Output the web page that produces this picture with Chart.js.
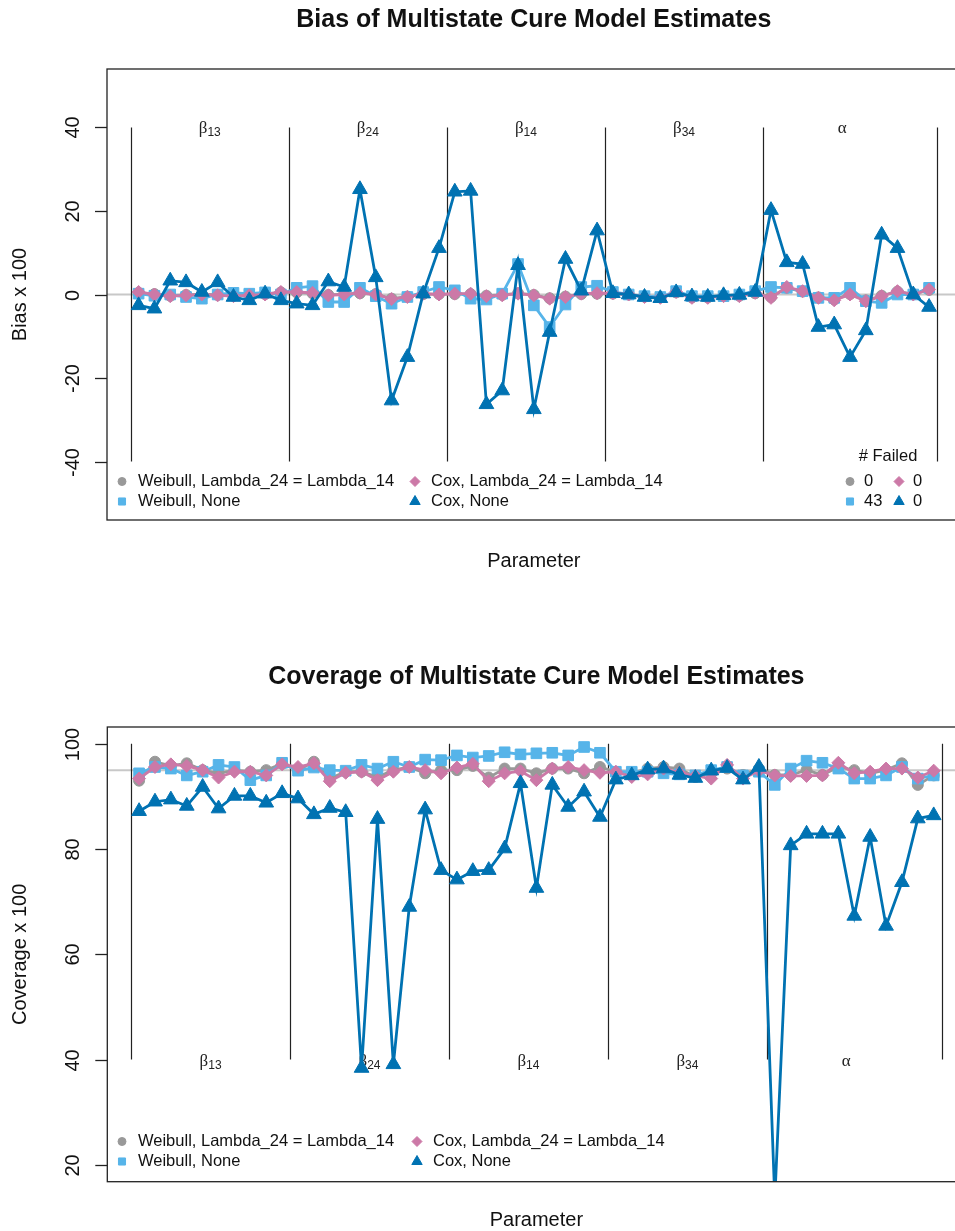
<!DOCTYPE html>
<html>
<head>
<meta charset="utf-8">
<script src="https://cdn.jsdelivr.net/npm/chart.js@4.4.1/dist/chart.umd.min.js"></script>
<style>
html, body { margin:0; padding:0; background:#fff; overflow:hidden; width:955px; height:1231px; }
#wrap { position:relative; width:955px; height:1231px; overflow:hidden; }
canvas { position:absolute; left:0; }
#biasCanvas { top:0; }
#covCanvas { top:615px; }
</style>
</head>
<body>
<div id="wrap">
<canvas id="biasCanvas" width="975" height="615"></canvas>
<canvas id="covCanvas" width="975" height="616"></canvas>
</div>
<script>
// parameter index (x position of each estimate)
var paramIndex = [1,2,3,4,5,6,7,8,9,10,11,12,13,14,15,16,17,18,19,20,21,22,23,24,25,
  26,27,28,29,30,31,32,33,34,35,36,37,38,39,40,41,42,43,44,45,46,47,48,49,50,51];

// groups of parameters
var groupSymbols = ['\u03B2', '\u03B2', '\u03B2', '\u03B2', '\u03B1'];
var groupSubs = ['13', '24', '14', '34', ''];
var groupCenters = [5.5, 15.5, 25.5, 35.5, 45.5];
var groupBounds = [0.5, 10.5, 20.5, 30.5, 40.5, 51.5];

var seriesNames = ['Weibull, Lambda_24 = Lambda_14', 'Weibull, None', 'Cox, Lambda_24 = Lambda_14', 'Cox, None'];
var failedCounts = [0, 43, 0, 0];

// Bias x 100
var biasWeibullLambda = [0.4, 0.1, -0.3, -0.1, 0.1, -0.1, -0.3, -0.1, 0.1, 0.5,
  0.5, 0.3, -0.1, 0.1, 0.3, 0.1, -1.0, -0.5, 0.1, 0.1,
  0.1, 0.1, -0.3, -0.1, 0.3, -0.1, -0.9, -0.5, 0.1, 0.2,
  0.2, 0.0, -0.5, -0.7, 0.5, -0.7, -0.7, -0.3, -0.3, 0.3,
  -0.6, 1.6, 0.7, -0.7, -1.2, 0.1, -1.4, -0.3, 0.7, 0.1, 1.1];
var biasWeibullNone = [0.2, -0.3, 0.0, -0.6, -1.0, 0.0, 0.4, 0.2, 0.5, 0.0,
  1.6, 2.0, -1.8, -1.8, 1.6, -0.4, -2.2, -0.6, 0.6, 1.8,
  1.0, -1.0, -1.2, 0.2, 7.3, -2.6, -7.8, -2.4, 1.8, 2.1,
  0.6, 0.0, -0.4, -0.6, 0.8, -0.4, -0.4, -0.4, 0.0, 0.8,
  1.8, 1.6, 0.8, -0.8, -0.8, 1.6, -1.6, -2.0, 0.0, 0.0, 1.6];
var biasCoxLambda = [0.6, 0.0, -0.4, -0.2, 0.0, -0.2, -0.4, -0.2, 0.0, 0.6,
  0.6, 0.4, -0.2, 0.0, 0.4, 0.0, -1.1, -0.6, 0.2, 0.0,
  0.2, 0.2, -0.4, -0.2, 0.2, -0.2, -1.0, -0.6, 0.2, 0.3,
  0.3, 0.0, -0.6, -0.8, 0.6, -0.8, -0.8, -0.4, -0.4, 0.4,
  -0.8, 1.8, 0.8, -0.8, -1.4, 0.0, -1.6, -0.4, 0.8, 0.0, 1.2];
var biasCoxNone = [-2.6, -3.4, 3.3, 2.9, 0.6, 2.9, -0.6, -1.4, 0.2, -1.4,
  -2.2, -2.6, 3.1, 1.8, 25.2, 4.1, -25.4, -15.0, 0.2, 11.1,
  24.6, 24.8, -26.3, -23.0, 7.0, -27.5, -9.0, 8.5, 0.9, 15.3,
  0.3, 0.0, -0.6, -0.9, 0.5, -0.5, -0.6, -0.2, -0.1, 0.6,
  20.2, 7.7, 7.3, -7.8, -7.2, -15.0, -8.6, 14.3, 11.1, 0.0, -3.0];

// Coverage x 100
var covWeibullLambda = [93.0, 96.6, 95.8, 96.3, 95.0, 94.4, 95.0, 94.7, 95.0, 96.2,
  95.0, 96.6, 93.4, 94.7, 94.7, 93.7, 95.0, 95.6, 94.4, 95.0,
  95.0, 95.8, 93.6, 95.3, 95.3, 94.4, 95.3, 95.3, 94.4, 95.6,
  94.7, 94.4, 95.3, 95.6, 95.3, 93.7, 94.4, 95.3, 94.1, 95.3,
  94.1, 94.1, 95.0, 94.1, 95.6, 95.0, 94.4, 95.0, 96.3, 92.2, 94.0];
var covWeibullNone = [94.4, 95.6, 95.3, 94.0, 94.7, 96.0, 95.6, 93.1, 94.0, 96.4,
  94.9, 95.5, 95.0, 94.9, 96.0, 95.3, 96.6, 95.6, 97.0, 96.9,
  97.8, 97.4, 97.7, 98.4, 98.0, 98.2, 98.3, 97.8, 99.4, 98.3,
  94.7, 94.7, 94.7, 94.4, 94.2, 94.0, 95.0, 95.6, 94.0, 94.7,
  92.2, 95.3, 96.8, 96.4, 95.3, 93.4, 93.4, 94.0, 95.6, 93.4, 94.0];
var covCoxLambda = [93.4, 95.6, 96.1, 95.8, 95.0, 93.6, 94.7, 94.7, 94.0, 96.1,
  95.6, 96.3, 92.9, 94.5, 94.7, 93.1, 94.7, 95.6, 95.0, 94.4,
  95.5, 96.2, 92.9, 94.4, 94.8, 93.1, 95.3, 95.6, 95.0, 94.5,
  94.7, 93.7, 94.2, 95.3, 94.5, 93.9, 93.4, 96.0, 93.4, 94.9,
  94.0, 93.9, 93.9, 94.0, 96.4, 94.4, 94.7, 95.3, 95.3, 93.6, 94.9];
var covCoxNone = [87.2, 89.0, 89.4, 88.2, 91.8, 87.7, 90.1, 90.1, 88.8, 90.6,
  89.6, 86.6, 87.8, 87.0, 38.4, 85.7, 39.1, 69.0, 87.5, 76.0,
  74.2, 75.8, 76.0, 80.1, 92.5, 72.6, 92.2, 88.0, 90.9, 86.1,
  93.2, 94.0, 95.1, 95.3, 94.1, 93.5, 94.9, 95.4, 93.2, 95.6,
  13.5, 80.7, 82.9, 82.9, 82.9, 67.3, 82.3, 65.4, 73.7, 85.8, 86.4];

var biasTicks = [-40, -20, 0, 20, 40];
var covTicks = [20, 40, 60, 80, 100];

var FONT = '"Liberation Sans", Arial, Helvetica, sans-serif';
var SERIF = '"Liberation Serif", "DejaVu Serif", serif';
var colors = ['#999999', '#56B4E9', '#CC79A7', '#0072B2'];
var styles = ['circle', 'rect', 'rectRot', 'triangle'];
var radii = [5.5, 7.5, 6.5, 8.5];
var legRadii = [4, 5, 5, 6];

function pts(yv) {
  return paramIndex.map(function(x, i) { return {x: x, y: yv[i]}; });
}

function makeDatasets(vals) {
  var ds = [];
  for (var k = 0; k < 4; k++) {
    ds.push({
      label: seriesNames[k],
      data: pts(vals[k]),
      borderColor: colors[k],
      backgroundColor: colors[k],
      pointBackgroundColor: colors[k],
      pointBorderColor: colors[k],
      pointStyle: styles[k],
      pointRadius: radii[k],
      pointBorderWidth: 1,
      borderWidth: 2.8,
      tension: 0,
      order: 4 - k
    });
  }
  return ds;
}

function drawMarker(ctx, k, x, y, r) {
  ctx.fillStyle = colors[k];
  ctx.strokeStyle = colors[k];
  ctx.lineWidth = 1;
  Chart.helpers.drawPoint(ctx, {pointStyle: styles[k], radius: r, rotation: 0, borderWidth: 1}, x, y);
}

function makeDecor(cfg) {
  return {
    id: 'decor',
    beforeDatasetsDraw: function(chart) {
      var ctx = chart.ctx, xs = chart.scales.x, ys = chart.scales.y, a = chart.chartArea;
      ctx.save();
      // reference line
      ctx.strokeStyle = '#c8c8c8';
      ctx.lineWidth = 2;
      var yr = ys.getPixelForValue(cfg.refValue);
      ctx.beginPath(); ctx.moveTo(a.left, yr); ctx.lineTo(a.right, yr); ctx.stroke();
      // group separators
      ctx.strokeStyle = '#222';
      ctx.lineWidth = 1.2;
      groupBounds.forEach(function(b) {
        var x = Math.round(xs.getPixelForValue(b)) + 0.5;
        ctx.beginPath();
        ctx.moveTo(x, ys.getPixelForValue(cfg.vTop));
        ctx.lineTo(x, ys.getPixelForValue(cfg.vBottom));
        ctx.stroke();
      });
      // group labels
      var yl = ys.getPixelForValue(cfg.labelValue);
      ctx.fillStyle = '#222';
      ctx.textBaseline = 'alphabetic';
      ctx.textAlign = 'left';
      groupCenters.forEach(function(c, g) {
        ctx.font = '17px ' + SERIF;
        var w1 = ctx.measureText(groupSymbols[g]).width;
        ctx.font = '12px ' + FONT;
        var w2 = groupSubs[g] ? ctx.measureText(groupSubs[g]).width : 0;
        var x0 = xs.getPixelForValue(c) - (w1 + w2) / 2;
        ctx.font = '17px ' + SERIF;
        ctx.fillText(groupSymbols[g], x0, yl + 6);
        if (groupSubs[g]) {
          ctx.font = '12px ' + FONT;
          ctx.fillText(groupSubs[g], x0 + w1, yl + 9);
        }
      });
      ctx.restore();
    },
    afterDatasetsDraw: function(chart) {
      var ctx = chart.ctx, xs = chart.scales.x, ys = chart.scales.y, a = chart.chartArea;
      ctx.save();
      // frame
      ctx.strokeStyle = '#222';
      ctx.lineWidth = 1.3;
      ctx.strokeRect(a.left, a.top, a.right - a.left, a.bottom - a.top);
      // y ticks
      ctx.fillStyle = '#111';
      ctx.font = '20px ' + FONT;
      ctx.textAlign = 'center';
      ctx.textBaseline = 'middle';
      cfg.ticks.forEach(function(t) {
        var y = Math.round(ys.getPixelForValue(t)) + 0.5;
        ctx.beginPath(); ctx.moveTo(a.left - 12, y); ctx.lineTo(a.left, y); ctx.stroke();
        ctx.save();
        ctx.translate(73, y);
        ctx.rotate(-Math.PI / 2);
        ctx.fillText(String(t), 0, 0);
        ctx.restore();
      });
      // axis labels
      ctx.save();
      ctx.translate(20, (a.top + a.bottom) / 2);
      ctx.rotate(-Math.PI / 2);
      ctx.fillText(cfg.yLabel, 0, 0);
      ctx.restore();
      var mid = (a.left + a.right) / 2;
      ctx.fillText('Parameter', mid, cfg.xLabelY);
      ctx.font = 'bold 25px ' + FONT;
      ctx.fillText(cfg.title, mid, cfg.titleY);
      // legend
      ctx.font = '16.5px ' + FONT;
      ctx.textAlign = 'left';
      var cols = [[cfg.leg1X, cfg.legRow1], [cfg.leg1X, cfg.legRow2], [cfg.leg2X, cfg.legRow1], [cfg.leg2X, cfg.legRow2]];
      for (var k = 0; k < 4; k++) {
        drawMarker(ctx, k, cols[k][0], cols[k][1], legRadii[k]);
        ctx.fillStyle = '#111';
        ctx.fillText(seriesNames[k], cols[k][0] + 16, cols[k][1]);
      }
      if (cfg.showFailed) {
        ctx.textAlign = 'center';
        ctx.fillText('# Failed', 888, cfg.legRow1 - 25);
        ctx.textAlign = 'left';
        var fpos = [[850, cfg.legRow1], [850, cfg.legRow2], [899, cfg.legRow1], [899, cfg.legRow2]];
        for (var f = 0; f < 4; f++) {
          drawMarker(ctx, f, fpos[f][0], fpos[f][1], legRadii[f]);
          ctx.fillStyle = '#111';
          ctx.fillText(String(failedCounts[f]), fpos[f][0] + 14, fpos[f][1]);
        }
      }
      ctx.restore();
    }
  };
}

function makeChart(id, vals, yMin, yMax, pad, cfg) {
  return new Chart(document.getElementById(id).getContext('2d'), {
    type: 'line',
    data: { datasets: makeDatasets(vals) },
    options: {
      responsive: false,
      animation: false,
      devicePixelRatio: 1,
      events: [],
      layout: { padding: pad },
      plugins: { legend: { display: false }, title: { display: false }, tooltip: { enabled: false } },
      scales: {
        x: { type: 'linear', min: -1, max: 53, display: false },
        y: { type: 'linear', min: yMin, max: yMax, display: false }
      }
    },
    plugins: [makeDecor(cfg)]
  });
}

makeChart('biasCanvas', [biasWeibullLambda, biasWeibullNone, biasCoxLambda, biasCoxNone], -54, 54,
  { left: 107, top: 69, right: 14.3, bottom: 95 },
  { refValue: 0, vTop: 40, vBottom: -40, labelValue: 40, ticks: biasTicks, yLabel: 'Bias x 100',
    title: 'Bias of Multistate Cure Model Estimates', titleY: 20, xLabelY: 561,
    leg1X: 122, leg2X: 415, legRow1: 481.5, legRow2: 501.5, showFailed: true });

makeChart('covCanvas', [covWeibullLambda, covWeibullNone, covCoxLambda, covCoxNone], 16.8, 103.2,
  { left: 107.3, top: 112, right: 9.1, bottom: 49.3 },
  { refValue: 95, vTop: 100, vBottom: 40, labelValue: 40, ticks: covTicks, yLabel: 'Coverage x 100',
    title: 'Coverage of Multistate Cure Model Estimates', titleY: 62, xLabelY: 605,
    leg1X: 122, leg2X: 417, legRow1: 526.5, legRow2: 546.5, showFailed: false });
</script>
</body>
</html>
